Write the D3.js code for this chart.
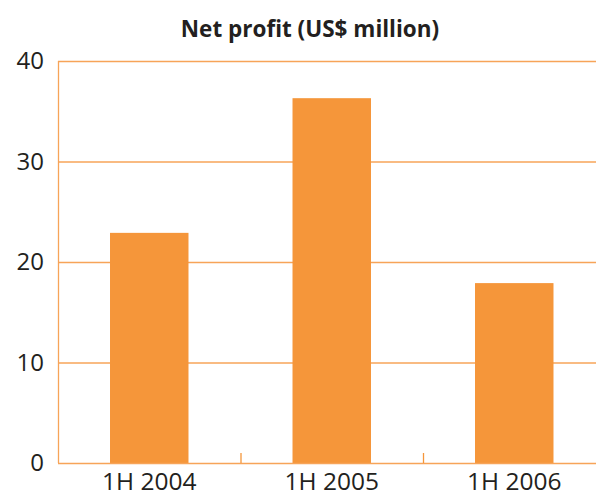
<!DOCTYPE html>
<html>
<head>
<meta charset="utf-8">
<script src="https://cdn.jsdelivr.net/npm/d3@7"></script>
<style>
  body { margin: 0; background: #fff; }
  svg { display: block; }
</style>
</head>
<body>
<div id="chart"></div>
<script>
// Data
const categories = ["1H 2004", "1H 2005", "1H 2006"];
const profits = [22.9, 36.3, 17.9];
const yTicks = [0, 10, 20, 30, 40];

const W = 596, H = 498;
const margin = { top: 61, left: 58, bottom: 35 };
const plotBottom = H - margin.bottom; // 463
const plotRight = 605.5; // axis runs off the right edge

const svg = d3.select("#chart")
    .append("svg")
    .attr("width", W)
    .attr("height", H)
    .style("font-family", "'Open Sans', 'Noto Sans', sans-serif");

const x = d3.scaleBand()
    .domain(categories)
    .range([margin.left, plotRight])
    .paddingInner(0.57)
    .paddingOuter(0.285);

const band = d3.scaleBand()
    .domain(categories)
    .range([margin.left, plotRight]);

const y = d3.scaleLinear()
    .domain([0, 40])
    .range([plotBottom, margin.top]);

// Gridlines
svg.append("g")
    .selectAll("line")
    .data(yTicks.filter(d => d > 0))
    .join("line")
    .attr("x1", margin.left)
    .attr("x2", W)
    .attr("y1", d => y(d) + 0.5)
    .attr("y2", d => y(d) + 0.5)
    .attr("stroke", "#f7a458")
    .attr("stroke-width", 1.3);

// Left axis line
svg.append("line")
    .attr("x1", margin.left + 0.5)
    .attr("x2", margin.left + 0.5)
    .attr("y1", y(40))
    .attr("y2", y(0))
    .attr("stroke", "#f7a458")
    .attr("stroke-width", 1.3);

// Bars
svg.append("g")
    .selectAll("rect")
    .data(profits)
    .join("rect")
    .attr("x", (d, i) => x(categories[i]))
    .attr("y", d => y(d))
    .attr("width", x.bandwidth())
    .attr("height", d => y(0) - y(d))
    .attr("fill", "#f5963a");

// Bottom axis line + category dividers
svg.append("line")
    .attr("x1", margin.left)
    .attr("x2", W)
    .attr("y1", y(0) + 0.5)
    .attr("y2", y(0) + 0.5)
    .attr("stroke", "#f7a458")
    .attr("stroke-width", 1.5);

svg.append("g")
    .selectAll("line")
    .data(categories.slice(1))
    .join("line")
    .attr("x1", d => band(d) + 0.5)
    .attr("x2", d => band(d) + 0.5)
    .attr("y1", y(0) - 10)
    .attr("y2", y(0))
    .attr("stroke", "#f5963a")
    .attr("stroke-width", 1.3);

// Y labels
svg.append("g")
    .selectAll("text")
    .data(yTicks)
    .join("text")
    .attr("x", 44)
    .attr("y", d => y(d) + 8)
    .attr("text-anchor", "end")
    .attr("fill", "#231f20")
    .style("font-size", "24px")
    .text(d => d);

// X labels
svg.append("g")
    .selectAll("text")
    .data(categories)
    .join("text")
    .attr("x", d => x(d) + x.bandwidth() / 2)
    .attr("y", 490)
    .attr("text-anchor", "middle")
    .attr("fill", "#231f20")
    .style("font-size", "24.5px")
    .text(d => d);

// Title
svg.append("text")
    .attr("x", 310)
    .attr("y", 37)
    .attr("text-anchor", "middle")
    .attr("fill", "#231f20")
    .style("font-size", "22.5px")
    .style("font-weight", "bold")
    .text("Net profit (US$ million)");
</script>
</body>
</html>
